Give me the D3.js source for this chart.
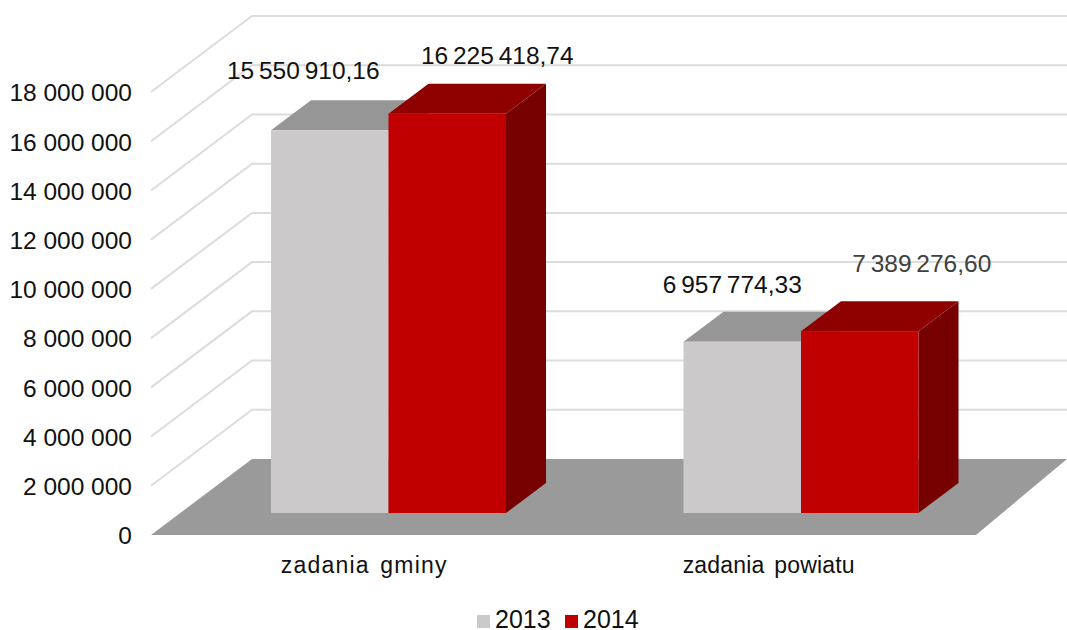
<!DOCTYPE html>
<html lang="en">
<head>
    <meta charset="UTF-8">
    <title>zadania gminy / zadania powiatu</title>
    <script src="https://d3js.org/d3.v7.min.js"></script>
    <style>
        html, body { margin: 0; padding: 0; background: #fff; }
        svg { display: block; }
        text { font-family: "Liberation Sans", Arial, sans-serif; fill: #111; }
    </style>
</head>
<body>
    <div id="my_dataviz"></div>

    <script>
        var categories = ["zadania gminy", "zadania powiatu"];
        var years = ["2013", "2014"];
        var values2013 = [15550910.16, 6957774.33];
        var values2014 = [16225418.74, 7389276.60];
        var tickValues = [0, 2000000, 4000000, 6000000, 8000000, 10000000, 12000000, 14000000, 16000000, 18000000];

        var width = 1067, height = 630;

        // oblique offsets of the 3D box
        var wall = {dx: 101, dy: 76};    // front edge of floor -> back wall
        var depth = {dx: 40, dy: 30};    // depth of one bar
        var barPlane = 54;               // back wall -> bar front faces, in y

        var colors = {
            "2013": {front: "#cbc9c9", top: "#969696", side: "#969696"},
            "2014": {front: "#c00000", top: "#8f0000", side: "#760000"}
        };

        var pl = d3.formatLocale({decimal: ",", thousands: " ", grouping: [3], currency: ["", ""]});

        var svg = d3.select("#my_dataviz")
            .append("svg")
            .attr("width", width)
            .attr("height", height);

        // y on the back wall
        var y = d3.scaleLinear().domain([0, 18000000]).range([459, 16]);
        var yFront = y.copy().range(y.range().map(function(d) { return d + wall.dy; }));
        var yBar = y.copy().range(y.range().map(function(d) { return d + barPlane; }));

        var x0 = d3.scaleBand().domain(categories).range([151, 976]);
        var x1 = d3.scaleBand().domain(years).range([120, 355]);

        var line = d3.line();

        // floor
        svg.append("path")
            .attr("d", line([
                [x0.range()[0], yFront(0)],
                [x0.range()[1], yFront(0)],
                [x0.range()[1] + 91, y(0)],
                [x0.range()[0] + wall.dx, y(0)]
            ]) + "Z")
            .attr("fill", "#9a9a9a");

        // grid lines on side wall and back wall
        svg.append("g").selectAll("path")
            .data(tickValues.filter(function(d) { return d > 0; }))
            .enter()
            .append("path")
            .attr("d", function(d) {
                return line([
                    [x0.range()[0], yFront(d)],
                    [x0.range()[0] + wall.dx, y(d)],
                    [width, y(d)]
                ]);
            })
            .attr("fill", "none")
            .attr("stroke", "#dcdcdc")
            .attr("stroke-width", 2);

        // y axis labels
        var yAxis = svg.append("g")
            .attr("transform", "translate(" + x0.range()[0] + ",0)")
            .call(d3.axisLeft(yFront)
                .tickValues(tickValues)
                .tickSize(0)
                .tickPadding(19)
                .tickFormat(pl.format(",d")));
        yAxis.select(".domain").remove();
        yAxis.selectAll("text")
            .style("font-size", "24.5px")
            .attr("y", 1);

        // x axis labels
        svg.append("g").selectAll("text")
            .data(categories)
            .enter()
            .append("text")
            .attr("x", function(d) { return x0(d) + x0.bandwidth() / 2 + (d === categories[0] ? 7 : -1); })
            .attr("y", 573)
            .attr("text-anchor", "middle")
            .style("font-size", "23px")
            .attr("letter-spacing", function(d) { return d === categories[0] ? "1.2" : "0.2"; })
            .attr("word-spacing", "3")
            .text(function(d) { return d; });

        // flat list of bars
        var bars = [];
        categories.forEach(function(c, i) {
            bars.push({category: c, year: "2013", value: values2013[i]});
            bars.push({category: c, year: "2014", value: values2014[i]});
        });

        var bar = svg.append("g").selectAll("g")
            .data(bars)
            .enter()
            .append("g");

        function xLeft(d) { return x0(d.category) + x1(d.year); }
        function xRight(d) { return xLeft(d) + x1.bandwidth(); }

        bar.append("path") // right side
            .attr("d", function(d) {
                return line([
                    [xRight(d), yBar(d.value)],
                    [xRight(d) + depth.dx, yBar(d.value) - depth.dy],
                    [xRight(d) + depth.dx, yBar(0) - depth.dy],
                    [xRight(d), yBar(0)]
                ]) + "Z";
            })
            .attr("fill", function(d) { return colors[d.year].side; });

        bar.append("path") // top
            .attr("d", function(d) {
                return line([
                    [xLeft(d), yBar(d.value)],
                    [xLeft(d) + depth.dx, yBar(d.value) - depth.dy],
                    [xRight(d) + depth.dx, yBar(d.value) - depth.dy],
                    [xRight(d), yBar(d.value)]
                ]) + "Z";
            })
            .attr("fill", function(d) { return colors[d.year].top; });

        bar.append("rect") // front
            .attr("x", xLeft)
            .attr("y", function(d) { return yBar(d.value); })
            .attr("width", x1.bandwidth())
            .attr("height", function(d) { return yBar(0) - yBar(d.value); })
            .attr("fill", function(d) { return colors[d.year].front; });

        // value labels, moved by hand like in the original
        var nudgeX = [-26.5, 50, -10, 62];
        var nudgeY = [-51, -50, -49, -59];
        svg.append("g").selectAll("text")
            .data(bars)
            .enter()
            .append("text")
            .attr("x", function(d, i) { return xLeft(d) + x1.bandwidth() / 2 + nudgeX[i]; })
            .attr("y", function(d, i) { return yBar(d.value) + nudgeY[i]; })
            .attr("text-anchor", "middle")
            .style("font-size", "24.5px")
            .attr("word-spacing", "-2")
            .style("fill", function(d, i) { return i === 3 ? "#404040" : "#111"; })
            .text(function(d) { return pl.format(",.2f")(d.value); });

        // legend
        var legendX = d3.scaleOrdinal().domain(years).range([477, 565]);
        var legend = svg.append("g").selectAll("g")
            .data(years)
            .enter()
            .append("g")
            .attr("transform", function(d) { return "translate(" + legendX(d) + ",615)"; });
        legend.append("rect")
            .attr("width", 13)
            .attr("height", 13)
            .attr("fill", function(d) { return colors[d].front; });
        legend.append("text")
            .attr("x", 18)
            .attr("y", 13)
            .style("font-size", "25px")
            .text(function(d) { return d; });
    </script>
</body>
</html>
